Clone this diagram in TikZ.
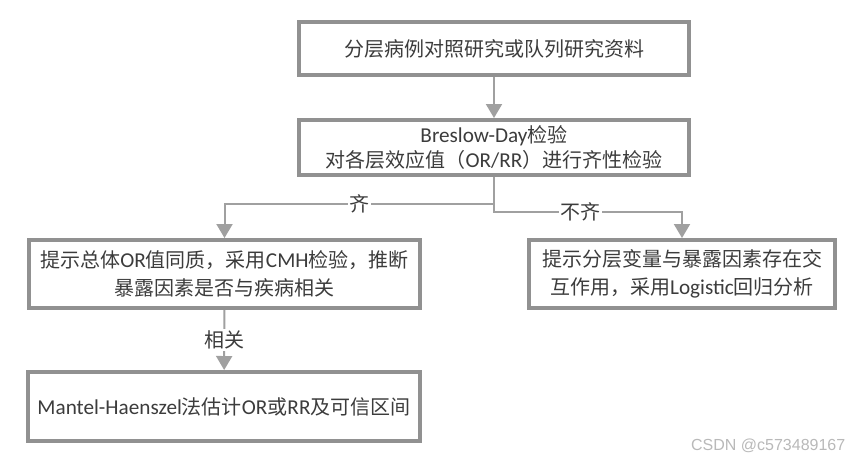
\documentclass[tikz,border=0pt]{standalone}
\usepackage{fontspec}
\setmainfont{Noto Sans CJK SC}
\newfontfamily\ltnfont{Carlito}[Scale=1.06]
\newfontfamily\markfont{Liberation Sans}
\newcommand{\ltn}[1]{{\ltnfont #1}}
\usetikzlibrary{arrows.meta}
\definecolor{boxgray}{RGB}{145,145,145}
\definecolor{linegray}{RGB}{160,160,160}
\definecolor{textgray}{RGB}{60,60,60}

\begin{document}
\begin{tikzpicture}[x=0.75pt, y=-0.75pt,
    box/.style={draw=boxgray, line width=3pt, fill=white, align=center, text=textgray,
      font=\fontsize{15}{21}\selectfont, inner sep=0pt},
    link/.style={draw=linegray, line width=1.5pt, -{Triangle[width=12pt,length=10.5pt]}},
    lbl/.style={fill=white, text=textgray, font=\fontsize{15}{18}\selectfont, inner sep=1pt}]
    \useasboundingbox[fill=white] (0,0) rectangle (865,462);

    % Cajas del diagrama
    \node[box, minimum width=292.5pt, minimum height=39.75pt] (data) at (494,48.5)
        {分层病例对照研究或队列研究资料};
    \node[box, minimum width=292.5pt, minimum height=41.25pt,
          font=\fontsize{15}{19}\selectfont] (breslow) at (494,147.5)
        {\ltn{Breslow-Day}检验\\对各层效应值（\ltn{OR/RR}）进行齐性检验};
    \node[box, minimum width=293.25pt, minimum height=51pt] (cmh) at (224.5,274)
        {提示总体\ltn{OR}值同质，采用\ltn{CMH}检验，推断\\暴露因素是否与疾病相关};
    \node[box, minimum width=229.5pt, minimum height=51pt] (logit) at (682,274)
        {提示分层变量与暴露因素存在交\\互作用，采用\ltn{Logistic}回归分析};
    \node[box, minimum width=294pt, minimum height=51.75pt] (mh) at (224,406.5)
        {\ltn{Mantel-Haenszel}法估计\ltn{OR}或\ltn{RR}及可信区间};

    % Conectores
    \draw[link] (data) -- (breslow);
    \draw[link] (breslow.south) -- ++(0,27) -| (cmh.north) node[lbl, pos=0.25] {齐};
    \draw[link] (breslow.south) -- ++(0,35) -| (logit.north) node[lbl, pos=0.23] {不齐};
    \draw[link] (cmh) -- (mh) node[lbl, midway] {相关};

    % Marca de agua
    \node[text=gray!55, font=\markfont\fontsize{12}{14}\selectfont, anchor=east] (mark) at (850,446)
        {CSDN @c573489167};
\end{tikzpicture}
\end{document}
